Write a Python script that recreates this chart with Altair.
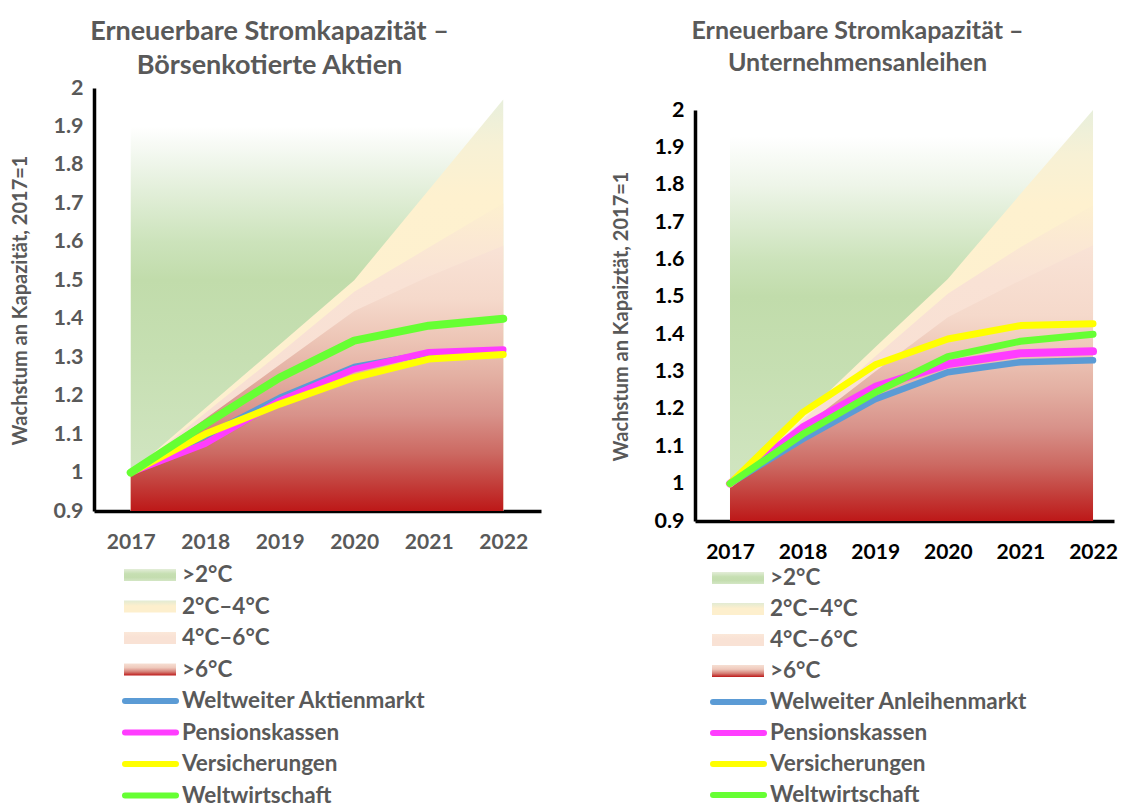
import altair as alt
import pandas as pd

# ---------------- data ----------------
years = [2017, 2018, 2019, 2020, 2021, 2022]
y_min = 0.9
y_max = 2.0
y_ticks = [0.9, 1.0, 1.1, 1.2, 1.3, 1.4, 1.5, 1.6, 1.7, 1.8, 1.9, 2.0]

band_labels = [">2°C", "2°C–4°C", "4°C–6°C", ">6°C"]

# left panel: Börsenkotierte Aktien (upper edge of each scenario band)
L_title = ["Erneuerbare Stromkapazität –", "Börsenkotierte Aktien"]
L_ytitle = "Wachstum an Kapazität, 2017=1"
L_band_gt2 = [1.90, 1.90, 1.90, 1.90, 1.90, 1.90]
L_band_2_4 = [1.00, 1.167, 1.333, 1.50, 1.735, 1.97]
L_band_4_6 = [1.00, 1.155, 1.31, 1.47, 1.585, 1.70]
L_band_gt6 = [1.00, 1.14, 1.28, 1.42, 1.51, 1.59]
L_line_labels = ["Weltweiter Aktienmarkt", "Pensionskassen", "Versicherungen", "Weltwirtschaft"]
L_market = [1.00, 1.095, 1.195, 1.275, 1.31, 1.315]
L_pension = [1.00, 1.075, 1.187, 1.269, 1.313, 1.32]
L_insurance = [1.00, 1.10, 1.178, 1.247, 1.295, 1.307]
L_world = [1.00, 1.126, 1.247, 1.343, 1.382, 1.40]

# right panel: Unternehmensanleihen
R_title = ["Erneuerbare Stromkapazität –", "Unternehmensanleihen"]
R_ytitle = "Wachstum an Kapaiztät, 2017=1"
R_band_gt2 = [1.93, 1.93, 1.93, 1.93, 1.93, 1.93]
R_band_2_4 = [1.00, 1.18, 1.365, 1.548, 1.775, 2.00]
R_band_4_6 = [1.00, 1.17, 1.34, 1.508, 1.633, 1.745]
R_band_gt6 = [1.00, 1.15, 1.30, 1.445, 1.544, 1.638]
R_line_labels = ["Welweiter Anleihenmarkt", "Pensionskassen", "Versicherungen", "Weltwirtschaft"]
R_market = [1.00, 1.119, 1.226, 1.298, 1.325, 1.33]
R_pension = [1.00, 1.15, 1.259, 1.32, 1.349, 1.354]
R_insurance = [1.00, 1.19, 1.318, 1.387, 1.423, 1.428]
R_world = [1.00, 1.132, 1.244, 1.34, 1.381, 1.40]

# ---------------- styles ----------------
FONT = "Lato"
GRAY = "#595959"
line_colors = ["#5B9BD5", "#FF3DFF", "#FFFF00", "#66FF33"]


def vgrad(top, stops_abs):
    span = top - y_min
    stops = []
    for v, c in stops_abs:
        off = (top - v) / span
        off = max(0.0, min(1.0, off))
        stops.append({"offset": off, "color": c})
    return {"gradient": "linear", "x1": 0, "y1": 0, "x2": 0, "y2": 1, "stops": stops}


def rgrad(stops_rel):
    return {"gradient": "linear", "x1": 0, "y1": 0, "x2": 0, "y2": 1,
            "stops": [{"offset": o, "color": c} for o, c in stops_rel]}


def band_stops(i, top):
    if i == 0:
        return [(top, "#FFFFFF"), (1.80, "#EEF5E9"), (1.70, "#DDECD2"), (1.60, "#CCE3BB"),
                (1.50, "#C1DCAB"), (1.30, "#C6DFB2"), (1.00, "#D1E5C1"), (0.90, "#D4E7C6")]
    if i == 1:
        return [(top, "#E8EFDC"), (top - 0.12, "#F7F1D5"), (top - 0.25, "#FEF1CF"), (0.90, "#FDEFCF")]
    if i == 2:
        return [(top, "#FDF0CF"), (top - 0.10, "#FBE8D3"), (top - 0.20, "#F9E2D5"), (0.90, "#F7DDD2")]
    return [(top, "#F9E3D6"), (1.45, "#F5D9CB"), (1.35, "#EDC6B7"), (1.25, "#E3AFA2"),
            (1.15, "#D8928A"), (1.05, "#CC6962"), (0.97, "#C33E3A"), (0.90, "#BD1818")]


swatch_grads = [
    rgrad([(0, "#E3EDD8"), (0.4, "#C6DFB2"), (0.7, "#C4DDAF"), (1, "#D3E6C4")]),
    rgrad([(0, "#E2EBD3"), (0.45, "#FDEFCD"), (1, "#FDEFCD")]),
    rgrad([(0, "#FBE8D9"), (0.4, "#F9E2D5"), (1, "#F9E2D5")]),
    rgrad([(0, "#F6DFD3"), (0.35, "#EFC9BC"), (0.7, "#D57F76"), (1, "#BE1A1A")]),
]


def make_panel(title, ytitle, bands, lines, line_labels, line_widths, width, height, y_top,
               xdom, lab_color, title_size, title_offset, title_lh, title_dx, ytitle_y,
               leg_spacing, leg_step, sw_x, txt_x):
    xaxis = alt.Axis(values=years, format="d", ticks=False, grid=False, domainColor="black",
                     domainWidth=3.5, labelFont=FONT, labelFontSize=21, labelFontWeight="bold",
                     labelColor=lab_color, labelPadding=20, labelFlush=False, title=None)
    yaxis = alt.Axis(values=y_ticks, format=".1~f", ticks=False, grid=False, domainColor="black",
                     domainWidth=3.5, labelFont=FONT, labelFontSize=21.5, labelFontWeight="bold",
                     labelColor=lab_color, labelPadding=11, labelFlush=False, labelOverlap=False,
                     title=ytitle, titleFont=FONT, titleFontSize=20, titleFontWeight="bold",
                     titleColor=GRAY, titleX=-74, titleY=ytitle_y, titleAngle=270,
                     titleAlign="center", titleBaseline="middle")
    x = alt.X("year:Q", scale=alt.Scale(domain=xdom, nice=False, zero=False), axis=xaxis)
    y = alt.Y("v:Q", scale=alt.Scale(domain=[y_min, y_max], nice=False, zero=False,
                                     range=[height, y_top]), axis=yaxis)

    layers = []
    for i, top_vals in enumerate(bands):
        df = pd.DataFrame({"year": years, "v": top_vals, "base": [y_min] * len(years)})
        grad = vgrad(max(top_vals), band_stops(i, max(top_vals)))
        layers.append(alt.Chart(df).mark_area(color=grad, opacity=1, interpolate="linear")
                      .encode(x=x, y=y, y2="base:Q"))
    for vals, col, w in zip(lines, line_colors, line_widths):
        df = pd.DataFrame({"year": years, "v": vals})
        layers.append(alt.Chart(df).mark_line(color=col, strokeWidth=w, strokeCap="round",
                                              strokeJoin="round", opacity=1)
                      .encode(x=x, y=y))
    plot = alt.layer(*layers).properties(
        width=width, height=height,
        title=alt.TitleParams(text=title, font=FONT, fontSize=title_size, fontWeight="bold",
                              color=GRAY, anchor="middle", offset=title_offset,
                              lineHeight=title_lh, dx=title_dx))

    # legend
    rows = list(range(8))
    ydef = alt.Y("row:O", scale=alt.Scale(type="point", padding=0, domain=rows), axis=None)
    leg_layers = []
    for i in range(4):
        df = pd.DataFrame({"row": [i]})
        leg_layers.append(alt.Chart(df).mark_point(
            shape="M-1,-0.23H1V0.23H-1Z", size=2704, filled=True, fill=swatch_grads[i],
            strokeWidth=0, opacity=1).encode(x=alt.value(sw_x + 26), y=ydef))
    for j in range(4):
        df = pd.DataFrame({"row": [4 + j]})
        leg_layers.append(alt.Chart(df).mark_rule(
            color=line_colors[j], strokeWidth=6, strokeCap="round", opacity=1)
            .encode(x=alt.value(sw_x + 1), x2=alt.value(sw_x + 52), y=ydef))
    tdf = pd.DataFrame({"row": rows, "label": band_labels + line_labels})
    leg_layers.append(alt.Chart(tdf).mark_text(
        align="left", baseline="middle", font=FONT, fontSize=22.5, fontWeight="bold",
        color=GRAY).encode(x=alt.value(txt_x), y=ydef, text="label:N"))
    legend = alt.layer(*leg_layers).properties(width=340, height=leg_step * 7)

    return alt.vconcat(plot, legend, spacing=leg_spacing, bounds="flush")


left = make_panel(L_title, L_ytitle,
                  [L_band_gt2, L_band_2_4, L_band_4_6, L_band_gt6],
                  [L_market, L_pension, L_insurance, L_world], L_line_labels, [6, 6.5, 7, 8],
                  447, 423, 0, [2016.507, 2022.507], GRAY, 27, -3, 34, -48, 212,
                  64, 31.5, 30, 88)
right = make_panel(R_title, R_ytitle,
                   [R_band_gt2, R_band_2_4, R_band_4_6, R_band_gt6],
                   [R_market, R_pension, R_insurance, R_world], R_line_labels, [6.5, 8, 7, 7],
                   419, 433, 22, [2016.518, 2022.289], "black", 25, 12.5, 32, -47, 228,
                   57, 31.0, 17, 75)

chart = alt.hconcat(left, right, spacing=70).properties(
    padding={"left": 2, "top": 10, "right": 0, "bottom": 0}
).configure_view(stroke=None)

chart.save("out.html", embed_options={"renderer": "svg", "actions": False})
